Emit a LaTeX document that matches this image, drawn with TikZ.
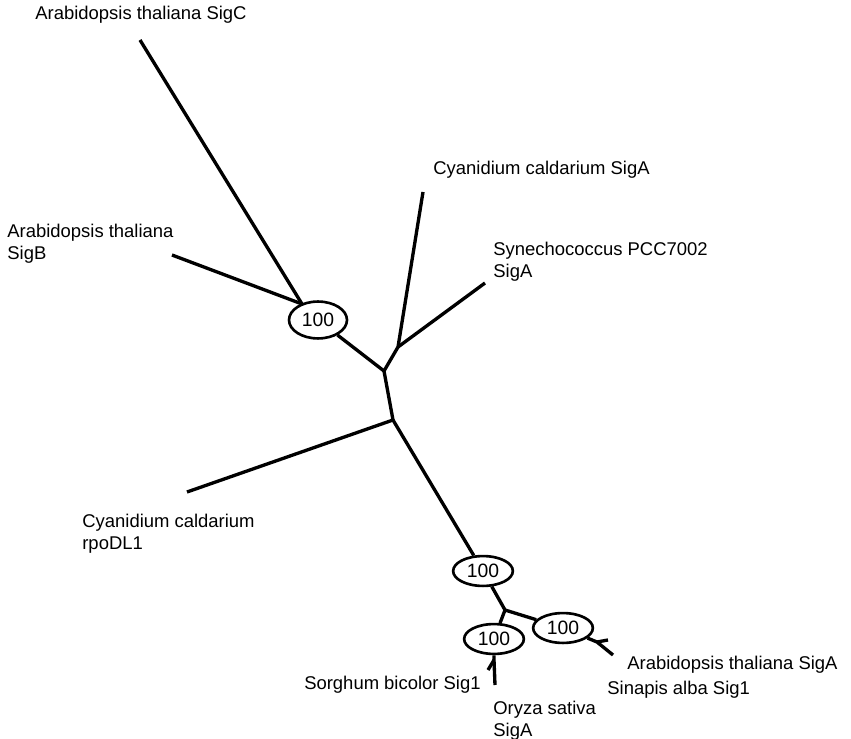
\documentclass[tikz,border=0pt]{standalone}
\usepackage{fontspec}
\setmainfont{Liberation Sans}
\usetikzlibrary{shapes.geometric}
\tikzset{
  branch/.style={line width=1.9pt},
  boot/.style={draw,ellipse,line width=1.5pt,fill=white,inner sep=0pt,
    minimum width=34pt,minimum height=17pt,font=\fontsize{11}{13}\selectfont},
  taxon/.style={anchor=west,inner sep=0pt,align=left,font=\fontsize{10.5}{12.5}\selectfont}
}
\begin{document}
\begin{tikzpicture}[x=0.02cm,y=-0.02cm]
  \useasboundingbox (0,0) rectangle (851,739);

  % inner junctions and branch tips
  \coordinate (jSig) at (302,304);
  \coordinate (jA) at (384,371);
  \coordinate (jB) at (398,347);
  \coordinate (jC) at (393,420);
  \coordinate (jD) at (505,610);
  \coordinate (jE) at (597,642);
  \coordinate (jF) at (494,660);

  \coordinate (tSigC) at (140,40);
  \coordinate (tSigB) at (172,255);
  \coordinate (tCyaA) at (423,192);
  \coordinate (tSyn) at (485,283);
  \coordinate (tRpo) at (187,492);
  \coordinate (tAthA) at (608,640);
  \coordinate (tSin) at (613,655);
  \coordinate (tSor) at (488,670);
  \coordinate (tOry) at (495,685);

  % bootstrap values
  \node[boot,minimum width=33pt,minimum height=21pt] (b1) at (318,320) {100};
  \node[boot] (b2) at (483,571) {100};
  \node[boot] (b3) at (563,628) {100};
  \node[boot] (b4) at (494,639) {100};

  % branches
  \draw[branch] (tSigC) -- (jSig);
  \draw[branch] (tSigB) -- (jSig);
  \draw[branch] (jSig) -- (b1) -- (jA);
  \draw[branch] (jA) -- (jB) -- (tCyaA);
  \draw[branch] (jB) -- (tSyn);
  \draw[branch] (jA) -- (jC) -- (tRpo);
  \draw[branch] (jC) -- (b2) -- (jD);
  \draw[branch] (jD) -- (b3) -- (jE) -- (tSin);
  \draw[branch] (jE) -- (tAthA);
  \draw[branch] (jD) -- (b4) -- (jF) -- (tOry);
  \draw[branch] (jF) -- (tSor);

  % taxa
  \node[taxon] (lSigC) at (35,15) {Arabidopsis thaliana SigC};
  \node[taxon] (lSigB) at (7,244) {Arabidopsis thaliana\\SigB};
  \node[taxon] (lCyaA) at (433,170) {Cyanidium caldarium SigA};
  \node[taxon] (lSyn) at (493,262) {Synechococcus PCC7002\\SigA};
  \node[taxon] (lRpo) at (82,534) {Cyanidium caldarium\\rpoDL1};
  \node[taxon] (lAthA) at (627,665) {Arabidopsis thaliana SigA};
  \node[taxon] (lSin) at (607,690) {Sinapis alba Sig1};
  \node[taxon,anchor=east] (lSor) at (481,685) {Sorghum bicolor Sig1};
  \node[taxon] (lOry) at (493,721) {Oryza sativa\\SigA};
\end{tikzpicture}
\end{document}
